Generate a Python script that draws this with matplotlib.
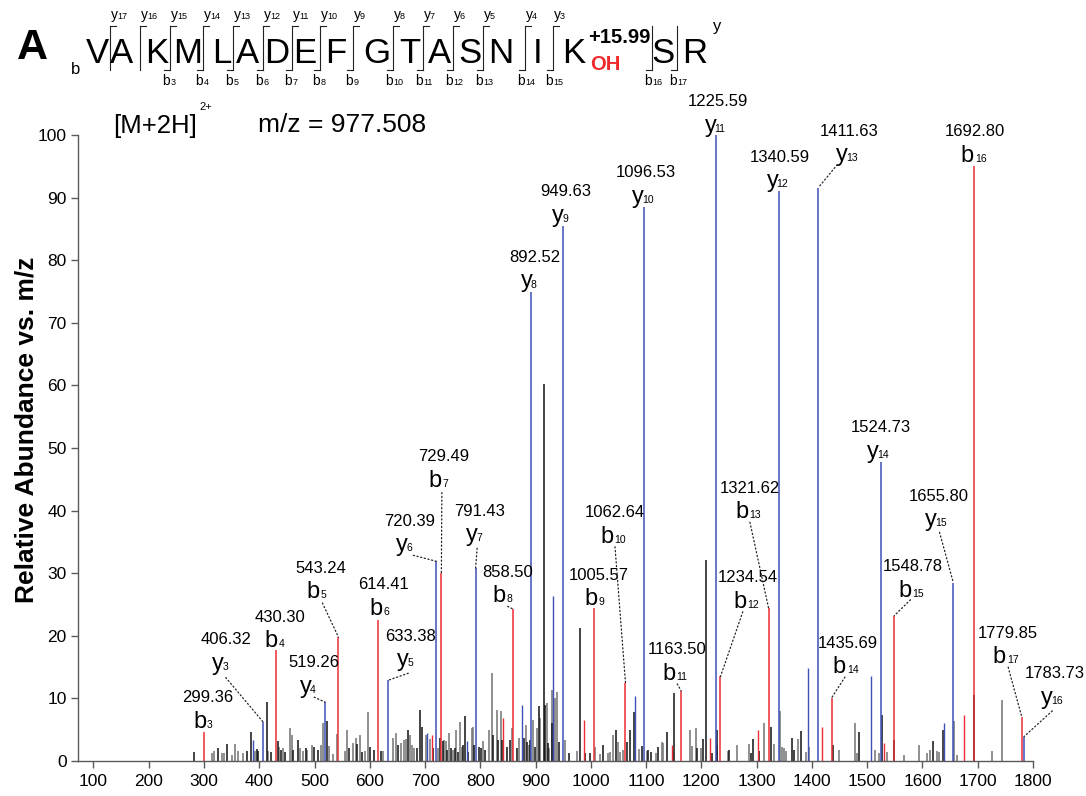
import matplotlib
matplotlib.use("Agg")
import matplotlib.pyplot as plt
from matplotlib.lines import Line2D

plt.rcParams['font.family'] = ['Liberation Sans', 'DejaVu Sans']

# ---- data ----
precursor = "[M+2H]"
precursor_mz = 977.508

sequence = list("VAKMLADEFGTASNIKSR")
header_y = list(range(3, 18))   # y3..y17 observed
header_b = list(range(3, 18))   # b3..b17 observed

# labelled fragment ions
ion_names = ['b3', 'y3', 'b4', 'y4', 'b5', 'b6', 'y5', 'y6', 'b7', 'y7', 'b8', 'y8', 'y9', 'b9', 'b10',
             'y10', 'b11', 'y11', 'b12', 'b13', 'y12', 'y13', 'b14', 'y14', 'b15', 'y15', 'b16', 'b17', 'y16']
ion_mz = [299.36, 406.32, 430.30, 519.26, 543.24, 614.41, 633.38, 720.39, 729.49, 791.43, 858.50, 892.52,
          949.63, 1005.57, 1062.64, 1096.53, 1163.50, 1225.59, 1234.54, 1321.62, 1340.59, 1411.63, 1435.69,
          1524.73, 1548.78, 1655.80, 1692.80, 1779.85, 1783.73]
ion_int = [4.7, 6.3, 17.7, 9.4, 19.8, 22.5, 12.9, 31.9, 30.1, 30.8, 24.3, 75.0, 85.5, 24.4, 12.5, 88.5,
           11.2, 100.0, 13.5, 24.4, 91.0, 91.6, 10.1, 47.8, 23.2, 28.5, 95.0, 7.0, 3.9]

# unlabelled matched b / y peaks
minor_b_mz = [712.0, 841.5, 988.1, 1146.2, 1216.1, 1302.9, 1418.0, 1530.3, 1675.1]
minor_b_int = [4.2, 6.9, 6.6, 2.5, 3.7, 5.0, 5.5, 2.8, 7.4]
minor_y_mz = [389.2, 704.0, 775.3, 875.9, 932.0, 1079.8, 1393.4, 1506.8, 1639.4]
minor_y_int = [3.4, 4.5, 3.2, 8.9, 26.3, 10.4, 14.9, 13.5, 6.0]

# unassigned peaks
black_mz = [281.8, 325.8, 341.0, 377.2, 385.0, 395.3, 398.2, 413.4, 420.6, 433.3, 439.3, 446.5, 461.5,
            469.5, 484.0, 499.5, 506.8, 523.0, 562.3, 577.3, 585.3, 600.3, 607.5, 619.7, 651.5, 669.6,
            684.8, 690.8, 695.0, 714.8, 727.9, 732.9, 740.2, 746.9, 753.6, 760.1, 769.1, 772.7, 777.1,
            789.0, 798.1, 801.2, 808.4, 822.3, 832.4, 839.1, 848.7, 853.6, 865.7, 879.0, 884.9, 889.8,
            898.9, 906.1, 914.6, 916.9, 922.9, 930.1, 942.8, 960.9, 980.3, 989.9, 998.4, 1022.4, 1045.4,
            1064.8, 1070.8, 1078.5, 1093.0, 1103.9, 1108.2, 1121.9, 1137.2, 1150.9, 1191.4, 1202.3,
            1207.7, 1219.7, 1227.6, 1250.4, 1289.2, 1293.8, 1304.7, 1325.3, 1364.4, 1367.5, 1379.6,
            1437.5, 1485.7, 1526.2, 1548.4, 1619.5, 1637.6, 1693.2]
black_int = [1.5, 2.1, 2.7, 1.6, 4.7, 1.9, 1.6, 9.5, 1.5, 3.2, 1.7, 1.4, 1.7,
             3.4, 2.0, 2.2, 1.7, 6.4, 2.0, 2.7, 1.5, 2.2, 1.7, 1.6, 2.5, 5.0,
             2.1, 8.1, 5.5, 2.0, 3.6, 3.2, 1.8, 2.0, 2.0, 1.5, 2.6, 7.2, 1.5,
             2.6, 2.3, 2.0, 1.8, 4.2, 3.4, 3.4, 2.3, 3.4, 2.0, 3.6, 3.1, 3.4,
             2.3, 8.8, 60.2, 9.0, 2.8, 6.0, 3.1, 1.2, 21.2, 1.2, 1.2, 2.6, 4.9,
             3.1, 4.9, 7.9, 2.4, 1.7, 1.4, 2.3, 4.7, 10.8, 2.0, 3.5,
             32.1, 1.2, 4.9, 1.7, 1.2, 3.5, 1.6, 5.5, 3.6, 1.7, 4.8,
             2.5, 4.7, 7.3, 3.4, 3.2, 4.9, 10.6]
gray_mz = [313.9, 318.0, 332.0, 336.7, 350.1, 356.0, 362.0, 370.0, 392.2, 416.3, 436.2, 443.4, 455.5,
           458.6, 473.6, 479.6, 486.8, 494.8, 511.1, 515.8, 526.7, 533.9, 541.1, 555.1, 559.2, 570.1,
           575.0, 582.2, 591.2, 597.2, 624.4, 642.5, 646.8, 656.4, 661.8, 665.4, 672.7, 676.8, 680.5,
           701.1, 708.9, 723.9, 734.7, 737.8, 743.8, 750.0, 755.4, 763.2, 766.2, 784.3, 786.1, 804.2,
           815.6, 820.5, 829.6, 836.8, 857.8, 870.5, 882.6, 888.0, 895.8, 903.0, 907.9, 920.0, 924.7,
           929.1, 935.0, 938.1, 953.1, 975.4, 1008.0, 1016.5, 1030.4, 1034.6, 1040.5, 1048.5, 1052.6,
           1057.5, 1087.1, 1101.0, 1117.8, 1128.1, 1131.0, 1149.1, 1179.3, 1183.5, 1189.6, 1199.2,
           1228.7, 1248.6, 1263.8, 1286.6, 1312.7, 1331.8, 1341.6, 1345.2, 1349.9, 1352.5, 1375.3,
           1388.7, 1395.2, 1448.9, 1477.9, 1481.5, 1514.0, 1521.8, 1535.2, 1566.5, 1593.7, 1607.6,
           1613.6, 1625.7, 1629.8, 1657.0, 1661.9, 1725.2, 1743.9]
gray_int = [1.3, 1.6, 1.2, 1.3, 1.0, 2.7, 1.6, 1.3, 1.6, 1.6, 2.3, 2.0, 5.2,
            4.2, 2.0, 1.6, 1.8, 2.5, 2.5, 6.0, 2.4, 1.1, 4.3, 1.6, 4.9, 2.9,
            3.6, 4.2, 1.6, 7.8, 1.6, 3.6, 4.5, 2.9, 3.4, 3.5, 4.2, 2.5, 2.0,
            4.2, 3.5, 2.1, 3.4, 3.2, 4.4, 1.8, 4.9, 6.2, 2.3, 5.2, 5.5, 3.2,
            4.9, 14.0, 8.2, 8.0, 5.2, 3.6, 5.8, 2.6, 6.5, 5.2, 6.8, 9.2, 2.0,
            11.3, 10.0, 11.0, 3.4, 1.6, 2.3, 1.1, 1.2, 1.5, 4.2, 3.1, 1.5,
            1.8, 1.9, 1.6, 1.3, 3.1, 2.9, 1.6, 5.0, 2.4, 5.3, 2.0,
            2.5, 1.6, 2.5, 2.7, 6.0, 2.7, 8.0, 2.3, 2.0, 1.6, 3.5,
            1.4, 2.3, 1.7, 6.0, 1.3, 1.7, 1.2, 1.5, 1.0, 2.5, 1.2,
            1.7, 1.6, 1.4, 6.4, 1.0, 1.6, 9.8]

# ---- layout (pixels) ----
W, H = 1086, 796
RED = '#ec2c33'
BLUE = '#3d50b8'
AXC = '#5a5a5a'

# label offsets from peak top: (dx, dy) for letter baseline, and start of dotted leader
lab_off = [(2.5, 4), (-38.5, 52), (2, 3), (-13, 9.3), (-19, 39), (4.7, 5.3), (21, 14), (-28, 10),
           (0.5, 86), (2.5, 27), (-7, 6.5), (1.5, 4), (1, 4), (3.5, 3), (-12, 140), (0, 4), (-5.7, 11),
           (0.8, 3), (26, 68.7), (-20, 90), (-0.7, 4), (29.5, 26.3), (14.3, 24.7), (-2, 4), (17.3, 19),
           (-16.3, 56.3), (0, 4.5), (-16, 54), (29.3, 32.7)]
lead_off = [None, (-37, 44), None, (-11, 5), (-16, 34), None, (20, 7), (-23, 6),
            (0.5, 80), (1.5, 20), (-5, 2.5), None, None, None, (-10.5, 136), None, (-4, 7),
            None, (22.3, 64.7), (-18.7, 86), None, (19, 23), (13.3, 20.7), None, (16.3, 16),
            (-13.8, 50.3), None, (-13.7, 50), (28.3, 25.7)]

fig = plt.figure(figsize=(W / 100, H / 100), dpi=100)
ax = fig.add_axes([78 / W, 35 / H, 955 / W, 626 / H])

ax.vlines(gray_mz, 0, gray_int, colors='#7d7d7d', lw=1.2)
ax.vlines(black_mz, 0, black_int, colors='#111111', lw=1.1)
ax.vlines(minor_b_mz, 0, minor_b_int, colors=RED, lw=1.0)
ax.vlines(minor_y_mz, 0, minor_y_int, colors=BLUE, lw=1.0)
ion_cols = [RED if n[0] == 'b' else BLUE for n in ion_names]
ax.vlines(ion_mz, 0, ion_int, colors=ion_cols, lw=1.1)

for name, mz, inten, (dx, dy), lead in zip(ion_names, ion_mz, ion_int, lab_off, lead_off):
    kw = dict(xy=(mz, inten), textcoords='offset pixels', va='baseline', annotation_clip=False)
    sub_dx = dx - 2 if name[0] == 'y' else dx + 1
    ax.annotate('%.2f' % mz, xytext=(dx + 1.5, dy + 25.5), ha='center', fontsize=12, **kw)
    ax.annotate(name[0], xytext=(dx, dy), ha='right', fontsize=17, **kw)
    ax.annotate(name[1:], xytext=(sub_dx, dy), ha='left', fontsize=7.5, **kw)
    if lead is not None:
        ax.annotate('', xy=(mz, inten), xytext=lead, textcoords='offset pixels',
                    annotation_clip=False,
                    arrowprops=dict(arrowstyle='-', linestyle=(0, (1, 2)), lw=0.9,
                                    color='#222222', shrinkA=0, shrinkB=0))

ax.set_xlim(72, 1800)
ax.set_ylim(0, 100)
ax.set_xticks(range(100, 1801, 100))
ax.set_yticks(range(0, 101, 10))
for s in ['top', 'right']:
    ax.spines[s].set_visible(False)
for s in ['left', 'bottom']:
    ax.spines[s].set_color(AXC)
    ax.spines[s].set_linewidth(1.0)
ax.tick_params(axis='both', colors=AXC, labelcolor='black', labelsize=12.5, length=4.8, width=1.0)
ax.tick_params(axis='x', pad=4.8)
ax.tick_params(axis='y', pad=3.4)

fig.text(27 / W, 1 - 430 / H, 'Relative Abundance vs. m/z', rotation=90, ha='center', va='center',
         fontsize=19, fontweight='bold')


def ftext(x, y, s, **kw):
    kw.setdefault('va', 'baseline')
    fig.text(x / W, 1 - y / H, s, **kw)


# precursor info
ftext(113, 133, precursor, fontsize=18.5)
ftext(199, 110, '2+', fontsize=8)
ftext(258, 132, 'm/z = %.3f' % precursor_mz, fontsize=19)

# panel letter
ftext(32, 59, 'A', fontsize=31, fontweight='bold', ha='center')

# peptide sequence with fragmentation map
res_x = [97, 122, 157, 188, 222, 247, 277, 305, 336, 377, 410, 439, 470, 501, 537.5, 574, 663, 695]
gap_x = [110, 140, 170, 203, 233, 263, 292, 320, 353, 393, 423, 453, 483, 525, 553, 652, 677]
for x, aa in zip(res_x, sequence):
    ftext(x, 63, aa, fontsize=25, ha='center')
ftext(76, 74, 'b', fontsize=12, ha='center')
ftext(717, 31, 'y', fontsize=12, ha='center')
ftext(588, 43, '+15.99', fontsize=14.5, fontweight='bold')
ftext(590, 70, 'OH', fontsize=14.5, fontweight='bold', color='#ee2a2a')

n = len(sequence)
for i, x in enumerate(gap_x):
    yn = n - 1 - i
    bn = i + 1
    y0, y1 = 1 - 26 / H, 1 - 70 / H
    fig.add_artist(Line2D([x / W, x / W], [y0, y1], color='#222222', lw=0.8))
    if yn in header_y:
        fig.add_artist(Line2D([x / W, (x + 6) / W], [y0, y0], color='#222222', lw=0.8))
        ftext(x + 1, 19, 'y', fontsize=10)
        ftext(x + 7, 19, str(yn), fontsize=6.5)
    if bn in header_b:
        fig.add_artist(Line2D([(x - 6) / W, x / W], [y1, y1], color='#222222', lw=0.8))
        ftext(x, 85, 'b', fontsize=10, ha='right')
        ftext(x + 0.5, 85, str(bn), fontsize=6.5)

fig.savefig('out.png', dpi=100)
